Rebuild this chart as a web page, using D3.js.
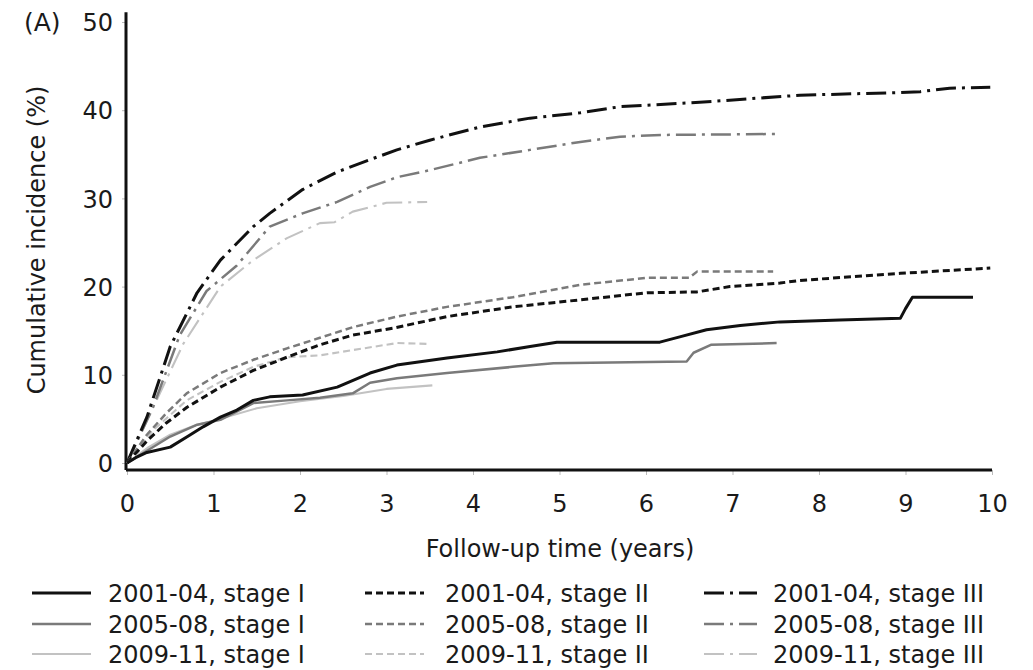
<!DOCTYPE html>
<html>
<head>
<meta charset="utf-8">
<script src="https://cdn.jsdelivr.net/npm/d3@7"></script>
<style>
  body { margin: 0; background: #fff; }
  svg text { font-family: "DejaVu Sans", sans-serif; fill: #1a1a1a; }
</style>
</head>
<body>
<svg id="chart" width="1033" height="670"></svg>
<script>
// cumulative incidence, [years, %]
const stageI_0104 = [[0,0],[0.1,0.6],[0.23,1.2],[0.5,1.8],[0.7,3.0],[0.88,4.1],[1.08,5.2],[1.27,6.0],[1.46,7.1],[1.65,7.5],[2.03,7.7],[2.43,8.6],[2.81,10.2],[3.12,11.1],[3.7,11.9],[4.28,12.6],[4.66,13.2],[4.97,13.7],[6.16,13.7],[6.39,14.3],[6.7,15.1],[7.09,15.6],[7.55,16.0],[8.24,16.2],[8.94,16.4],[9.0,17.5],[9.08,18.8],[9.78,18.8]];
const stageI_0508 = [[0,0],[0.25,1.5],[0.5,3.0],[0.8,4.3],[1.08,4.9],[1.46,6.8],[1.85,7.1],[2.23,7.4],[2.61,7.9],[2.81,9.1],[3.12,9.6],[3.7,10.2],[4.46,10.9],[4.93,11.3],[6.47,11.5],[6.55,12.5],[6.75,13.4],[7.51,13.6]];
const stageI_0911 = [[0,0],[0.25,1.8],[0.5,3.2],[0.8,4.3],[1.0,4.8],[1.5,6.2],[2.0,7.0],[2.5,7.6],[3.0,8.4],[3.53,8.8]];

const stageII_0104 = [[0,0],[0.23,2.5],[0.45,4.5],[0.69,6.3],[1.08,8.6],[1.46,10.5],[1.85,12.0],[2.23,13.4],[2.61,14.5],[3.08,15.3],[3.7,16.6],[4.46,17.7],[5.24,18.5],[6.01,19.3],[6.59,19.4],[6.97,20.0],[7.55,20.4],[7.78,20.7],[8.94,21.5],[9.98,22.1]];
const stageII_0508 = [[0,0],[0.23,3.2],[0.45,5.6],[0.69,7.9],[1.08,10.2],[1.46,11.7],[1.85,13.0],[2.23,14.2],[2.61,15.4],[3.12,16.6],[3.7,17.7],[4.46,18.8],[5.24,20.2],[6.01,21.0],[6.5,21.0],[6.59,21.7],[7.47,21.7]];
const stageII_0911 = [[0,0],[0.3,3.7],[0.69,7.1],[1.08,9.2],[1.46,10.9],[1.85,12.0],[2.23,12.2],[2.61,12.8],[3.12,13.6],[3.5,13.5]];

const stageIII_0104 = [[0,0],[0.23,5.2],[0.5,13.2],[0.81,19.3],[1.08,23.0],[1.46,26.8],[1.65,28.3],[2.03,31.0],[2.43,33.0],[2.81,34.4],[3.12,35.5],[3.5,36.6],[4.08,38.1],[4.66,39.1],[5.24,39.7],[5.7,40.4],[6.62,40.9],[7.78,41.7],[8.94,42.0],[9.17,42.1],[9.51,42.5],[9.98,42.6]];
const stageIII_0508 = [[0,0],[0.3,6.3],[0.61,14.5],[0.92,19.5],[1.27,22.4],[1.65,26.8],[2.03,28.3],[2.43,29.6],[2.81,31.3],[3.12,32.4],[3.5,33.2],[4.08,34.6],[4.66,35.5],[5.24,36.4],[5.7,37.0],[6.24,37.2],[7.51,37.3]];
const stageIII_0911 = [[0,0],[0.38,7.9],[0.65,13.5],[1.08,20.0],[1.46,23.0],[1.85,25.5],[2.23,27.2],[2.4,27.3],[2.61,28.5],[3.0,29.5],[3.47,29.6]];

const xTicks = [0,1,2,3,4,5,6,7,8,9,10];
const yTicks = [0,10,20,30,40,50];
const periods = ["2001-04", "2005-08", "2009-11"];
const stages = ["I", "II", "III"];

// line looks: colour / width by period, dash by stage
const colors = ["#111", "#7a7a7a", "#c2c2c2"];
const widths = [3, 2.5, 2.1];
const dashes = [null, "7,4", "20,6,3,6"];

const series = [
  { period: 0, stage: 0, data: stageI_0104 },
  { period: 1, stage: 0, data: stageI_0508 },
  { period: 2, stage: 0, data: stageI_0911 },
  { period: 0, stage: 1, data: stageII_0104 },
  { period: 1, stage: 1, data: stageII_0508 },
  { period: 2, stage: 1, data: stageII_0911 },
  { period: 0, stage: 2, data: stageIII_0104 },
  { period: 1, stage: 2, data: stageIII_0508 },
  { period: 2, stage: 2, data: stageIII_0911 }
];

const svg = d3.select('#chart');

const x = d3.scaleLinear().domain([0, 10]).range([127, 992]);
const y = d3.scaleLinear().domain([0, 50]).range([463, 22]);
const axisY = 470;
const axisX = 126;

// axes (Stata style: heavy lines, faint ticks)
const xAxis = svg.append('g')
  .attr('transform', `translate(0,${axisY})`)
  .call(d3.axisBottom(x).tickValues(xTicks).tickSize(5).tickPadding(20));
xAxis.select('.domain').remove();
xAxis.selectAll('.tick line').attr('stroke', '#bbb');
xAxis.selectAll('.tick text').attr('font-size', 24).attr('dy', '0.72em');

const yAxis = svg.append('g')
  .attr('transform', `translate(${axisX},0)`)
  .call(d3.axisLeft(y).tickValues(yTicks).tickSize(4).tickPadding(9));
yAxis.select('.domain').remove();
yAxis.selectAll('.tick line').attr('stroke', '#bbb');
yAxis.selectAll('.tick text').attr('font-size', 24).attr('dy', '0.36em');

svg.append('line')
  .attr('x1', axisX).attr('x2', axisX)
  .attr('y1', y(51.1)).attr('y2', axisY)
  .attr('stroke', '#111').attr('stroke-width', 3);
svg.append('line')
  .attr('x1', axisX).attr('x2', x(10))
  .attr('y1', axisY).attr('y2', axisY)
  .attr('stroke', '#111').attr('stroke-width', 3);

// curves
const line = d3.line().x(d => x(d[0])).y(d => y(d[1]));

svg.append('g').selectAll('path')
  .data(series.slice().reverse())
  .enter().append('path')
  .attr('d', d => line(d.data))
  .attr('fill', 'none')
  .attr('stroke', d => colors[d.period])
  .attr('stroke-width', d => widths[d.period])
  .attr('stroke-dasharray', d => dashes[d.stage])
  .attr('stroke-linejoin', 'round');

// titles
svg.append('text')
  .attr('x', 560).attr('y', 548)
  .attr('dy', '0.36em')
  .attr('text-anchor', 'middle')
  .attr('font-size', 24)
  .text('Follow-up time (years)');

svg.append('text')
  .attr('transform', 'translate(36,240) rotate(-90)')
  .attr('dy', '0.36em')
  .attr('text-anchor', 'middle')
  .attr('font-size', 24)
  .text('Cumulative incidence (%)');

svg.append('text')
  .attr('x', 24).attr('y', 22)
  .attr('dy', '0.36em')
  .attr('font-size', 25)
  .text('(A)');

// legend, column per stage, row per period
const colX = [32, 365, 698];
const rowY = [593, 624, 654];
const sampleLen = 59;

const leg = svg.append('g').selectAll('g')
  .data(series)
  .enter().append('g')
  .attr('transform', d => `translate(${colX[d.stage]},${rowY[d.period]})`);

leg.append('line')
  .attr('x1', 0).attr('x2', sampleLen)
  .attr('stroke', d => colors[d.period])
  .attr('stroke-width', d => widths[d.period])
  .attr('stroke-dasharray', d => dashes[d.stage])
  .attr('stroke-dashoffset', d => d.stage === 2 ? 29 : 0);

leg.append('text')
  .attr('x', d => d.stage === 2 ? 75 : (d.stage === 1 ? 80 : 76))
  .attr('dy', '0.36em')
  .attr('font-size', 24)
  .text(d => `${periods[d.period]}, stage ${stages[d.stage]}`);
</script>
</body>
</html>
